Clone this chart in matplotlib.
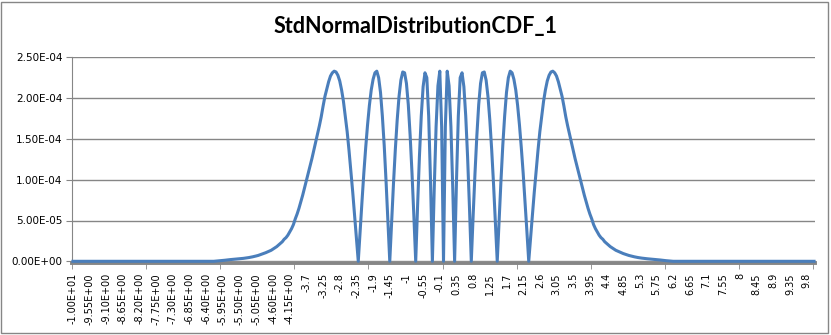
# region imports
import matplotlib
matplotlib.use("Agg")
import matplotlib.pyplot as plt
from matplotlib.patches import Rectangle
from matplotlib.ticker import FixedLocator, FixedFormatter, FuncFormatter
import numpy as np
# endregion

# region data
# categories on the x axis: -10 to 10 in steps of 0.05 (401 points)
x_cats = np.linspace(-10, 10, 401)

# values, in units of 1e-5
left_flat = [0.0] * 77   # -10.00 .. -6.20
neg_side = [
    0.02, 0.04, 0.06, 0.08,
    0.10, 0.13, 0.16, 0.19, 0.21, 0.23, 0.25, 0.27, 0.29, 0.31, 0.33, 0.36, 0.39, 0.42, 0.46, 0.50, 0.55, 0.60, 0.66, 0.72,
    0.80, 0.87, 0.95, 1.05, 1.15, 1.25, 1.35, 1.50, 1.65, 1.80, 2.00, 2.20, 2.40, 2.70, 2.90, 3.20, 3.60, 4.00, 4.50, 5.20,
    5.80, 6.50, 7.30, 8.10, 9.00, 9.90, 10.8, 11.7, 12.6, 13.6, 14.6, 15.6, 16.6, 17.7, 19.0, 20.2, 21.1, 22.0, 22.7, 23.1,
    23.3, 23.2, 22.8, 22.1, 21.0, 19.6, 17.8, 15.9, 13.6, 11.1, 8.5, 5.7, 2.9,
    0.0, 3.7, 7.3, 10.8, 13.9, 16.7, 19.1, 21.0, 22.3, 23.1, 23.3, 22.5, 20.7, 17.8, 14.2, 9.8, 5.0,
    0.0, 4.8, 9.5, 13.7, 17.3, 20.2, 22.2, 23.2, 23.1, 21.8, 19.2, 15.4, 10.8, 5.6,
    0.0, 6.7, 12.8, 17.8, 21.4, 23.1, 22.5, 17.8, 9.8,
    0.0, 8.9, 16.5, 21.5, 23.3, 16.5,
]   # -6.15 .. -0.05
center = [0.0]   # 0.00
pos_side = [
    16.5, 23.3, 21.5, 16.5, 8.9, 0.0,
    9.8, 17.8, 22.5, 23.1, 21.4, 17.8, 12.8, 6.7, 0.0,
    5.6, 10.8, 15.4, 19.2, 21.8, 23.1, 23.2, 22.2, 20.2, 17.3, 13.7, 9.5, 4.8, 0.0,
    5.0, 9.8, 14.2, 17.8, 20.7, 22.5, 23.3, 23.1, 22.3, 21.0, 19.1, 16.7, 13.9, 10.8, 7.3, 3.7, 0.0,
    2.9, 5.7, 8.5, 11.1, 13.6, 15.9, 17.8, 19.6, 21.0, 22.1, 22.8, 23.2, 23.3,
    23.1, 22.7, 22.0, 21.1, 20.2, 19.0, 17.7, 16.6, 15.6, 14.6, 13.6, 12.6, 11.7, 10.8, 9.9, 9.0, 8.1, 7.3, 6.5, 5.8,
    5.20, 4.50, 4.00, 3.60, 3.20, 2.90, 2.70, 2.40, 2.20, 2.00, 1.80, 1.65, 1.50, 1.35, 1.25, 1.15, 1.05, 0.95, 0.87, 0.80,
    0.72, 0.66, 0.60, 0.55, 0.50, 0.46, 0.42, 0.39, 0.36, 0.33, 0.31, 0.29, 0.27, 0.25, 0.23, 0.21, 0.19, 0.16, 0.13, 0.10,
    0.08, 0.06, 0.04, 0.02,
]   # 0.05 .. 6.15
right_flat = [0.0] * 77   # 6.20 .. 10.00

# x tick labels (every 9th category), as shown on the chart
x_labels = ["-1.00E+01", "-9.55E+00", "-9.10E+00", "-8.65E+00", "-8.20E+00", "-7.75E+00",
            "-7.30E+00", "-6.85E+00", "-6.40E+00", "-5.95E+00", "-5.50E+00", "-5.05E+00",
            "-4.60E+00", "-4.15E+00", "-3.7", "-3.25", "-2.8", "-2.35", "-1.9", "-1.45", "-1",
            "-0.55", "-0.1", "0.35", "0.8", "1.25", "1.7", "2.15", "2.6", "3.05", "3.5", "3.95",
            "4.4", "4.85", "5.3", "5.75", "6.2", "6.65", "7.1", "7.55", "8", "8.45", "8.9",
            "9.35", "9.8"]
y_ticks = [0.0, 5e-5, 1e-4, 1.5e-4, 2e-4, 2.5e-4]
# endregion

# region functions
def main():
    """
    Excel style line chart of the CDF error curve
    """
    grey = "#868686"
    vals = np.array(left_flat + neg_side + center + pos_side + right_flat) * 1e-5
    idx = np.arange(len(x_cats))

    fig = plt.figure(figsize=(8.31, 3.35), dpi=100)
    ax = fig.add_axes([72 / 831, 1 - 261.3 / 335, 743 / 831, 204 / 335])

    # chart border
    fig.patches.append(Rectangle((1 / 831, 2 / 335), 827 / 831, 331 / 335, transform=fig.transFigure,
                                 fill=False, edgecolor=grey, linewidth=1.0))

    ax.plot(idx, vals, color="#4A7EBB", linewidth=2.2, solid_joinstyle="round", zorder=3, clip_on=False)

    ax.set_xlim(-0.5, len(x_cats) - 0.5)
    ax.set_ylim(0, 2.5e-4)

    # y axis
    ax.set_yticks(y_ticks)
    ax.yaxis.set_major_formatter(FuncFormatter(lambda v, p: f"{v:.2E}"))
    ax.yaxis.grid(True, color=grey, linewidth=1.0)
    ax.set_axisbelow(True)
    ax.tick_params(axis="y", length=4, color=grey, labelsize=7.5, pad=3)

    # x axis: labels every 9 categories, tick marks every 40
    ax.xaxis.set_major_locator(FixedLocator(idx[::9]))
    ax.xaxis.set_major_formatter(FixedFormatter(x_labels))
    ax.xaxis.set_minor_locator(FixedLocator(np.arange(-0.5, len(x_cats), 40)))
    ax.tick_params(axis="x", which="major", length=0, pad=7, labelsize=7, labelrotation=90)
    ax.tick_params(axis="x", which="minor", length=4, color=grey)

    for side in ["top", "right"]:
        ax.spines[side].set_visible(False)
    ax.spines["left"].set_color(grey)
    ax.spines["bottom"].set_color(grey)
    ax.spines["bottom"].set_linewidth(2.8)
    ax.spines["bottom"].set_position(("outward", 1.5))

    fig.text(0.5, 1 - 27 / 335, "StdNormalDistributionCDF_1", ha="center", va="center",
             fontsize=15.5, fontweight="bold", family=["Lato", "DejaVu Sans"])

    fig.savefig("out.png", dpi=100)
# endregion

# region function calls
if __name__ == "__main__":
    main()
# endregion
